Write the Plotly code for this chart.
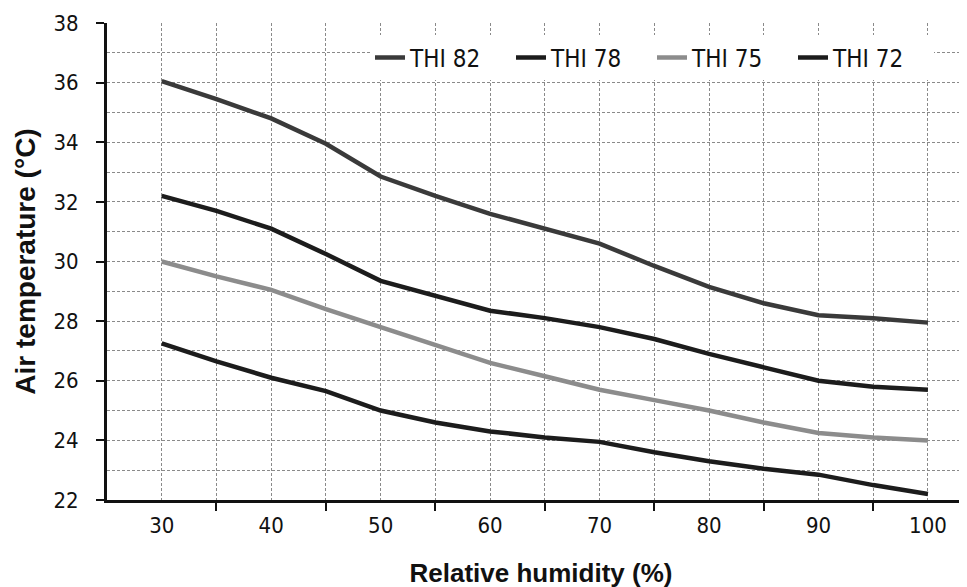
import plotly.graph_objects as go

humidity = [30, 35, 40, 45, 50, 55, 60, 65, 70, 75, 80, 85, 90, 95, 100]
thi82 = [36.05, 35.45, 34.8, 33.95, 32.85, 32.2, 31.6, 31.1, 30.6, 29.85, 29.15, 28.6, 28.2, 28.1, 27.95]
thi78 = [32.2, 31.7, 31.1, 30.25, 29.35, 28.85, 28.35, 28.1, 27.8, 27.4, 26.9, 26.45, 26.0, 25.8, 25.7]
thi75 = [30.0, 29.5, 29.05, 28.4, 27.8, 27.2, 26.6, 26.15, 25.7, 25.35, 25.0, 24.6, 24.25, 24.1, 24.0]
thi72 = [27.25, 26.65, 26.1, 25.65, 25.0, 24.6, 24.3, 24.1, 23.95, 23.6, 23.3, 23.05, 22.85, 22.5, 22.2]

series = [
    ("THI 82", thi82, "#3a3a3a"),
    ("THI 78", thi78, "#1c1c1c"),
    ("THI 75", thi75, "#8c8c8c"),
    ("THI 72", thi72, "#1c1c1c"),
]

x_labels = [30, 40, 50, 60, 70, 80, 90, 100]
x_minor = [35, 45, 55, 65, 75, 85, 95]
y_ticks = [22, 24, 26, 28, 30, 32, 34, 36, 38]

narrow = "DejaVu Sans Condensed, Liberation Sans Narrow, sans-serif"
bold = "Liberation Sans, Arial, sans-serif"

fig = go.Figure()
for name, vals, col in series:
    fig.add_trace(go.Scatter(x=humidity, y=vals, name=name, mode="lines",
                             line=dict(color=col, width=4.5)))

gcol = "#8a8a8a"
grid = dict(gridcolor=gcol, gridwidth=1, griddash="3px,2px")

fig.update_layout(
    width=967, height=587,
    margin=dict(l=99, r=0, t=15, b=95),
    paper_bgcolor="white", plot_bgcolor="white",
    showlegend=True,
    legend=dict(orientation="h", x=0.303, xanchor="left", y=0.927, yanchor="middle",
                bgcolor="white", font=dict(family=narrow, size=24, color="#111"),
                entrywidth=96, itemwidth=30, traceorder="normal"),
    xaxis=dict(range=[25, 104.3], tickmode="array", tickvals=x_labels,
               ticktext=[str(v) for v in x_labels], ticks="", ticklabelstandoff=4,
               tickfont=dict(family=narrow, size=22, color="#111"),
               showline=True, linecolor="#111", linewidth=2.5, showgrid=True, **grid,
               minor=dict(tickmode="array", tickvals=x_minor, ticks="outside", ticklen=8,
                          tickwidth=2, tickcolor="#111", showgrid=True,
                          gridcolor=gcol, gridwidth=1, griddash="3px,2px"),
               title=dict(text="Relative humidity (%)", standoff=27,
                          font=dict(family=bold, size=26, color="#111", weight="bold")),
               zeroline=False),
    yaxis=dict(range=[22, 38], tickmode="array", tickvals=y_ticks,
               ticks="outside", ticklen=8, tickwidth=2, tickcolor="#111",
               ticklabelstandoff=13,
               tickfont=dict(family=narrow, size=22, color="#111"),
               showline=True, linecolor="#111", linewidth=3, showgrid=True, **grid,
               minor=dict(dtick=1, ticks="", showgrid=True,
                          gridcolor=gcol, gridwidth=1, griddash="3px,2px"),
               title=dict(text="Air temperature (°C)", standoff=10,
                          font=dict(family=bold, size=28, color="#111", weight="bold")),
               zeroline=False),
)

fig.write_html("out.html")
